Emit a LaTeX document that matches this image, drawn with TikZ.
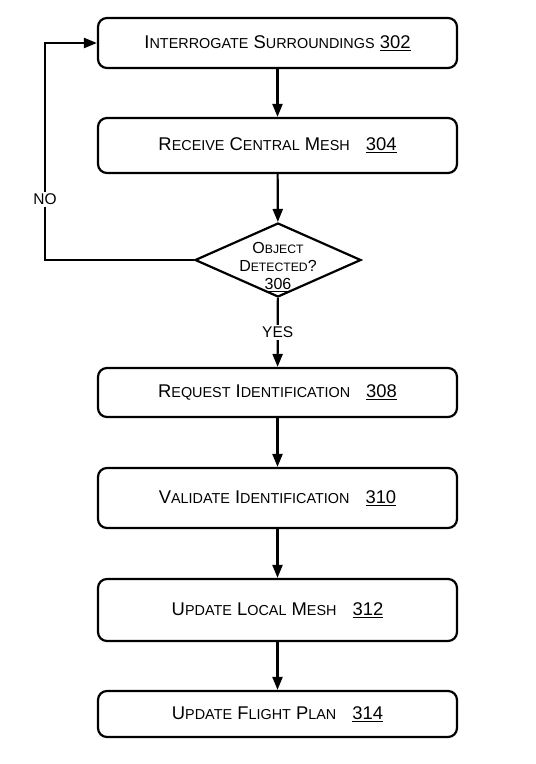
\documentclass[tikz,border=0pt]{standalone}
\usepackage{fontspec}
\setmainfont{Liberation Sans}
\usetikzlibrary{arrows.meta,shapes.geometric}

% fake small caps: first letter big, rest small
\newcommand{\capw}[2]{#1{\fontsize{14.4}{16}\selectfont #2}}
\newcommand{\capd}[2]{#1{\fontsize{12.2}{14}\selectfont #2}}

\begin{document}
\begin{tikzpicture}[x=1pt, y=-1pt,
	stepbox/.style={shape=rectangle, rounded corners=9pt, draw=black, line width=2.2pt,
		minimum width=359pt, inner sep=0pt, font=\fontsize{18.4}{20}\selectfont},
	decision/.style={shape=diamond, draw=black, line width=2.2pt, inner sep=0pt,
		minimum width=166pt, minimum height=74pt},
	flow/.style={-{Triangle[length=13pt,width=10pt]}, line width=2.2pt},
	answer/.style={fill=white, inner sep=2pt, font=\fontsize{15.5}{17}\selectfont}]

	\useasboundingbox (0,0) rectangle (536,764);

	\node[stepbox, minimum height=50pt] (interrogate) at (277.5, 43)    {\capw{I}{NTERROGATE} \capw{S}{URROUNDINGS} \underline{302}};
	\node[stepbox, minimum height=55pt] (receive)     at (277.5, 145.5) {\capw{R}{ECEIVE} \capw{C}{ENTRAL} \capw{M}{ESH}\hspace{16pt}\underline{304}};
	\node[decision] (detected) at (278, 260) {};
	\node[align=center, font=\fontsize{16}{18}\selectfont] (detectedtxt) at (278, 267)
		{\capd{O}{BJECT}\\ \capd{D}{ETECTED}?\\ \underline{306}};
	\node[stepbox, minimum height=49pt] (request)     at (277.5, 392.5) {\capw{R}{EQUEST} \capw{I}{DENTIFICATION}\hspace{16pt}\underline{308}};
	\node[stepbox, minimum height=60pt] (validate)    at (277.5, 498)   {\capw{V}{ALIDATE} \capw{I}{DENTIFICATION}\hspace{16pt}\underline{310}};
	\node[stepbox, minimum height=62pt] (updmesh)     at (277.5, 610)   {\capw{U}{PDATE} \capw{L}{OCAL} \capw{M}{ESH}\hspace{16pt}\underline{312}};
	\node[stepbox, minimum height=46pt] (updplan)     at (277.5, 714)   {\capw{U}{PDATE} \capw{F}{LIGHT} \capw{P}{LAN}\hspace{16pt}\underline{314}};

	\coordinate (noturn) at (45, 260);

	\path[flow] (interrogate) edge (receive);
	\path[flow] (receive) edge (detected);
	\path[flow] (detected) edge node[answer] {YES} (request);
	\path[flow] (request) edge (validate);
	\path[flow] (validate) edge (updmesh);
	\path[flow] (updmesh) edge (updplan);
	\draw[flow] (detected.west) -- (noturn) |- node[answer, pos=0.14] {NO} (interrogate.west);

\end{tikzpicture}
\end{document}
